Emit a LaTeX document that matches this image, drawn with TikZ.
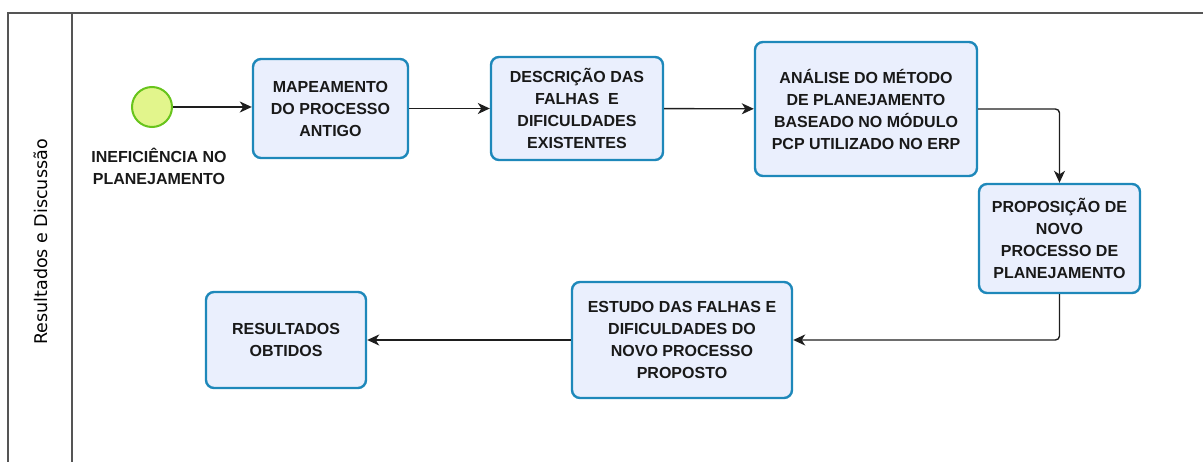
\documentclass[tikz,border=0pt]{standalone}
\usepackage{fontspec}
\setmainfont{Liberation Sans}
\newfontfamily\lanefont{DejaVu Sans}
\usetikzlibrary{arrows.meta}
\definecolor{boxfill}{RGB}{234,239,253}
\definecolor{boxline}{RGB}{30,136,186}
\definecolor{startfill}{RGB}{226,245,140}
\definecolor{startline}{RGB}{104,196,28}
\definecolor{poolline}{RGB}{85,85,85}
\definecolor{flowline}{RGB}{30,30,30}
\tikzset{
  task/.style={rectangle,rounded corners=8pt,draw=boxline,line width=2.4pt,fill=boxfill,
    align=center,text=black!90,font=\bfseries\fontsize{16}{22}\selectfont},
  startevent/.style={circle,draw=startline,line width=2pt,fill=startfill,minimum size=40pt,inner sep=0pt},
  flow/.style={draw=flowline,line width=1.4pt,-{Stealth[length=12pt,width=11pt,inset=3.5pt]}}
}
\begin{document}
\begin{tikzpicture}[x=1pt,y=-1pt]
        \useasboundingbox (0,0) rectangle (1203,462);
        \clip (0,0) rectangle (1203,462);
        % pool and lane
        \draw[poolline,line width=1.5pt] (1215,13) -- (8,13) -- (8,475);
        \draw[poolline,line width=1.5pt] (72,13) -- (72,475);
        \node[rotate=90,font=\lanefont\fontsize{17.5}{20}\selectfont] (lane) at (41,242) {Resultados e Discussão};
        % events and tasks
        \node[startevent] (ini) at (152,107) {};
        \node[align=center,text=black!90,font=\bfseries\fontsize{16}{22}\selectfont] (inilabel) at (159,166) {INEFICIÊNCIA NO\\PLANEJAMENTO};
        \node[task,minimum width=155pt,minimum height=99pt] (mapa) at (330.5,108.5) {MAPEAMENTO\\DO PROCESSO\\ANTIGO};
        \node[task,minimum width=172pt,minimum height=103pt] (descr) at (577,108.5) {DESCRIÇÃO DAS\\FALHAS \ E\\DIFICULDADES\\EXISTENTES};
        \node[task,minimum width=222pt,minimum height=134pt] (analise) at (866,109) {ANÁLISE DO MÉTODO\\DE PLANEJAMENTO\\BASEADO NO MÓDULO\\PCP UTILIZADO NO ERP};
        \node[task,minimum width=161pt,minimum height=109pt] (propos) at (1059.5,238.5) {PROPOSIÇÃO DE\\NOVO\\PROCESSO DE\\PLANEJAMENTO};
        \node[task,minimum width=220pt,minimum height=116pt] (estudo) at (682,340) {ESTUDO DAS FALHAS E\\DIFICULDADES DO\\NOVO PROCESSO\\PROPOSTO};
        \node[task,minimum width=160pt,minimum height=96pt] (result) at (286,340) {RESULTADOS\\OBTIDOS};
        % sequence flows
        \draw[flow] (ini.east) -- (ini.east -| mapa.west);
        \draw[flow] (mapa) -- (descr);
        \draw[flow] (descr) -- (analise);
        \draw[flow,rounded corners=4pt] (analise.east) -| (propos.north);
        \draw[flow,rounded corners=4pt] (propos.south) |- (estudo.east);
        \draw[flow] (estudo) -- (result);
    \end{tikzpicture}
\end{document}
